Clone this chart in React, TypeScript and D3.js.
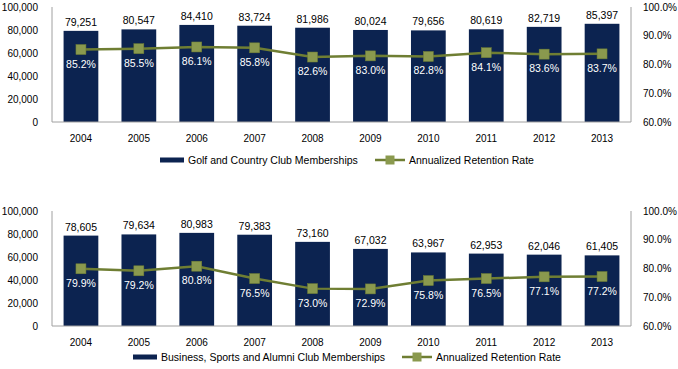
import React from "react";
import * as d3 from "d3";

const years = ["2004", "2005", "2006", "2007", "2008", "2009", "2010", "2011", "2012", "2013"];
const golfMembers = [79251, 80547, 84410, 83724, 81986, 80024, 79656, 80619, 82719, 85397];
const golfRetention = [85.2, 85.5, 86.1, 85.8, 82.6, 83.0, 82.8, 84.1, 83.6, 83.7];
const bizMembers = [78605, 79634, 80983, 79383, 73160, 67032, 63967, 62953, 62046, 61405];
const bizRetention = [79.9, 79.2, 80.8, 76.5, 73.0, 72.9, 75.8, 76.5, 77.1, 77.2];
const leftTicks = [0, 20000, 40000, 60000, 80000, 100000];
const rightTicks = [60, 70, 80, 90, 100];
const golfLegend = "Golf and Country Club Memberships";
const bizLegend = "Business, Sports and Alumni Club Memberships";
const rateLegend = "Annualized Retention Rate";

const BAR = "#0C2350";
const LINE = "#6F7E33";
const MARK = "#8A994E";
const FONT = "'Liberation Sans', Arial, sans-serif";

type PanelProps = {
  top: number;
  bottom: number;
  members: number[];
  rates: number[];
  barLegend: string;
  legendY: number;
  barSwatchX: number;
  lineSwatchX: number;
};

function Panel({ top, bottom, members, rates, barLegend, legendY, barSwatchX, lineSwatchX }: PanelProps) {
  const left = 52;
  const right = 631;
  const x = d3.scaleBand<string>().domain(years).range([left, right]).paddingInner(0.4).paddingOuter(0.2);
  const y = d3.scaleLinear().domain([0, 100000]).range([bottom, top]);
  const y2 = d3.scaleLinear().domain([60, 100]).range([bottom, top]);
  const fmt = d3.format(",");
  const line = d3
    .line<number>()
    .x((_, i) => (x(years[i]) as number) + x.bandwidth() / 2)
    .y((d) => y2(d));
  const ms = 10;
  return (
    <g fontFamily={FONT}>
      {members.map((v, i) => (
        <rect key={"b" + i} x={x(years[i])} y={y(v)} width={x.bandwidth()} height={bottom - y(v)} fill={BAR} />
      ))}
      <line x1={left} x2={left} y1={top} y2={bottom} stroke="#A0A0A0" />
      <line x1={right} x2={right} y1={top} y2={bottom} stroke="#A0A0A0" />
      <line x1={left} x2={right} y1={bottom} y2={bottom} stroke="#A0A0A0" />
      {leftTicks.map((t) => (
        <text key={"l" + t} x={38} y={y(t) + 3.5} fontSize={10} textAnchor="end" fill="#000">
          {fmt(t)}
        </text>
      ))}
      {rightTicks.map((t) => (
        <text key={"r" + t} x={643} y={y2(t) + 3.5} fontSize={10} textAnchor="start" fill="#000">
          {t.toFixed(1) + "%"}
        </text>
      ))}
      {years.map((yr) => (
        <text key={"x" + yr} x={(x(yr) as number) + x.bandwidth() / 2} y={bottom + 19.5} fontSize={10} textAnchor="middle" fill="#000">
          {yr}
        </text>
      ))}
      {members.map((v, i) => (
        <text key={"v" + i} x={(x(years[i]) as number) + x.bandwidth() / 2} y={y(v) - 5} fontSize={10.5} textAnchor="middle" fill="#000">
          {fmt(v)}
        </text>
      ))}
      <path d={line(rates) || ""} fill="none" stroke={LINE} strokeWidth={2.5} />
      {rates.map((r, i) => (
        <rect
          key={"m" + i}
          x={(x(years[i]) as number) + x.bandwidth() / 2 - ms / 2}
          y={y2(r) - ms / 2}
          width={ms}
          height={ms}
          fill={MARK}
          stroke={LINE}
          strokeWidth={0.5}
        />
      ))}
      {rates.map((r, i) => (
        <text key={"p" + i} x={(x(years[i]) as number) + x.bandwidth() / 2} y={y2(r) + 18} fontSize={10.5} textAnchor="middle" fill="#fff">
          {r.toFixed(1) + "%"}
        </text>
      ))}
      <rect x={barSwatchX} y={legendY - 2.5} width={24} height={5} fill={BAR} />
      <text x={barSwatchX + 28} y={legendY + 3.5} fontSize={10.5} fill="#000">
        {barLegend}
      </text>
      <line x1={lineSwatchX} x2={lineSwatchX + 30} y1={legendY} y2={legendY} stroke={LINE} strokeWidth={2.5} />
      <rect x={lineSwatchX + 15 - 4.5} y={legendY - 4.5} width={9} height={9} fill={MARK} />
      <text x={lineSwatchX + 34} y={legendY + 3.5} fontSize={10.5} fill="#000">
        {rateLegend}
      </text>
    </g>
  );
}

export default function App() {
  return (
    <svg width={678} height={369} style={{ position: "absolute", left: 0, top: 0, background: "#fff" }}>
      <rect width={678} height={369} fill="#fff" />
      <Panel top={7} bottom={122} members={golfMembers} rates={golfRetention} barLegend={golfLegend} legendY={160} barSwatchX={160} lineSwatchX={375} />
      <Panel top={211} bottom={326} members={bizMembers} rates={bizRetention} barLegend={bizLegend} legendY={357} barSwatchX={133} lineSwatchX={402} />
    </svg>
  );
}
